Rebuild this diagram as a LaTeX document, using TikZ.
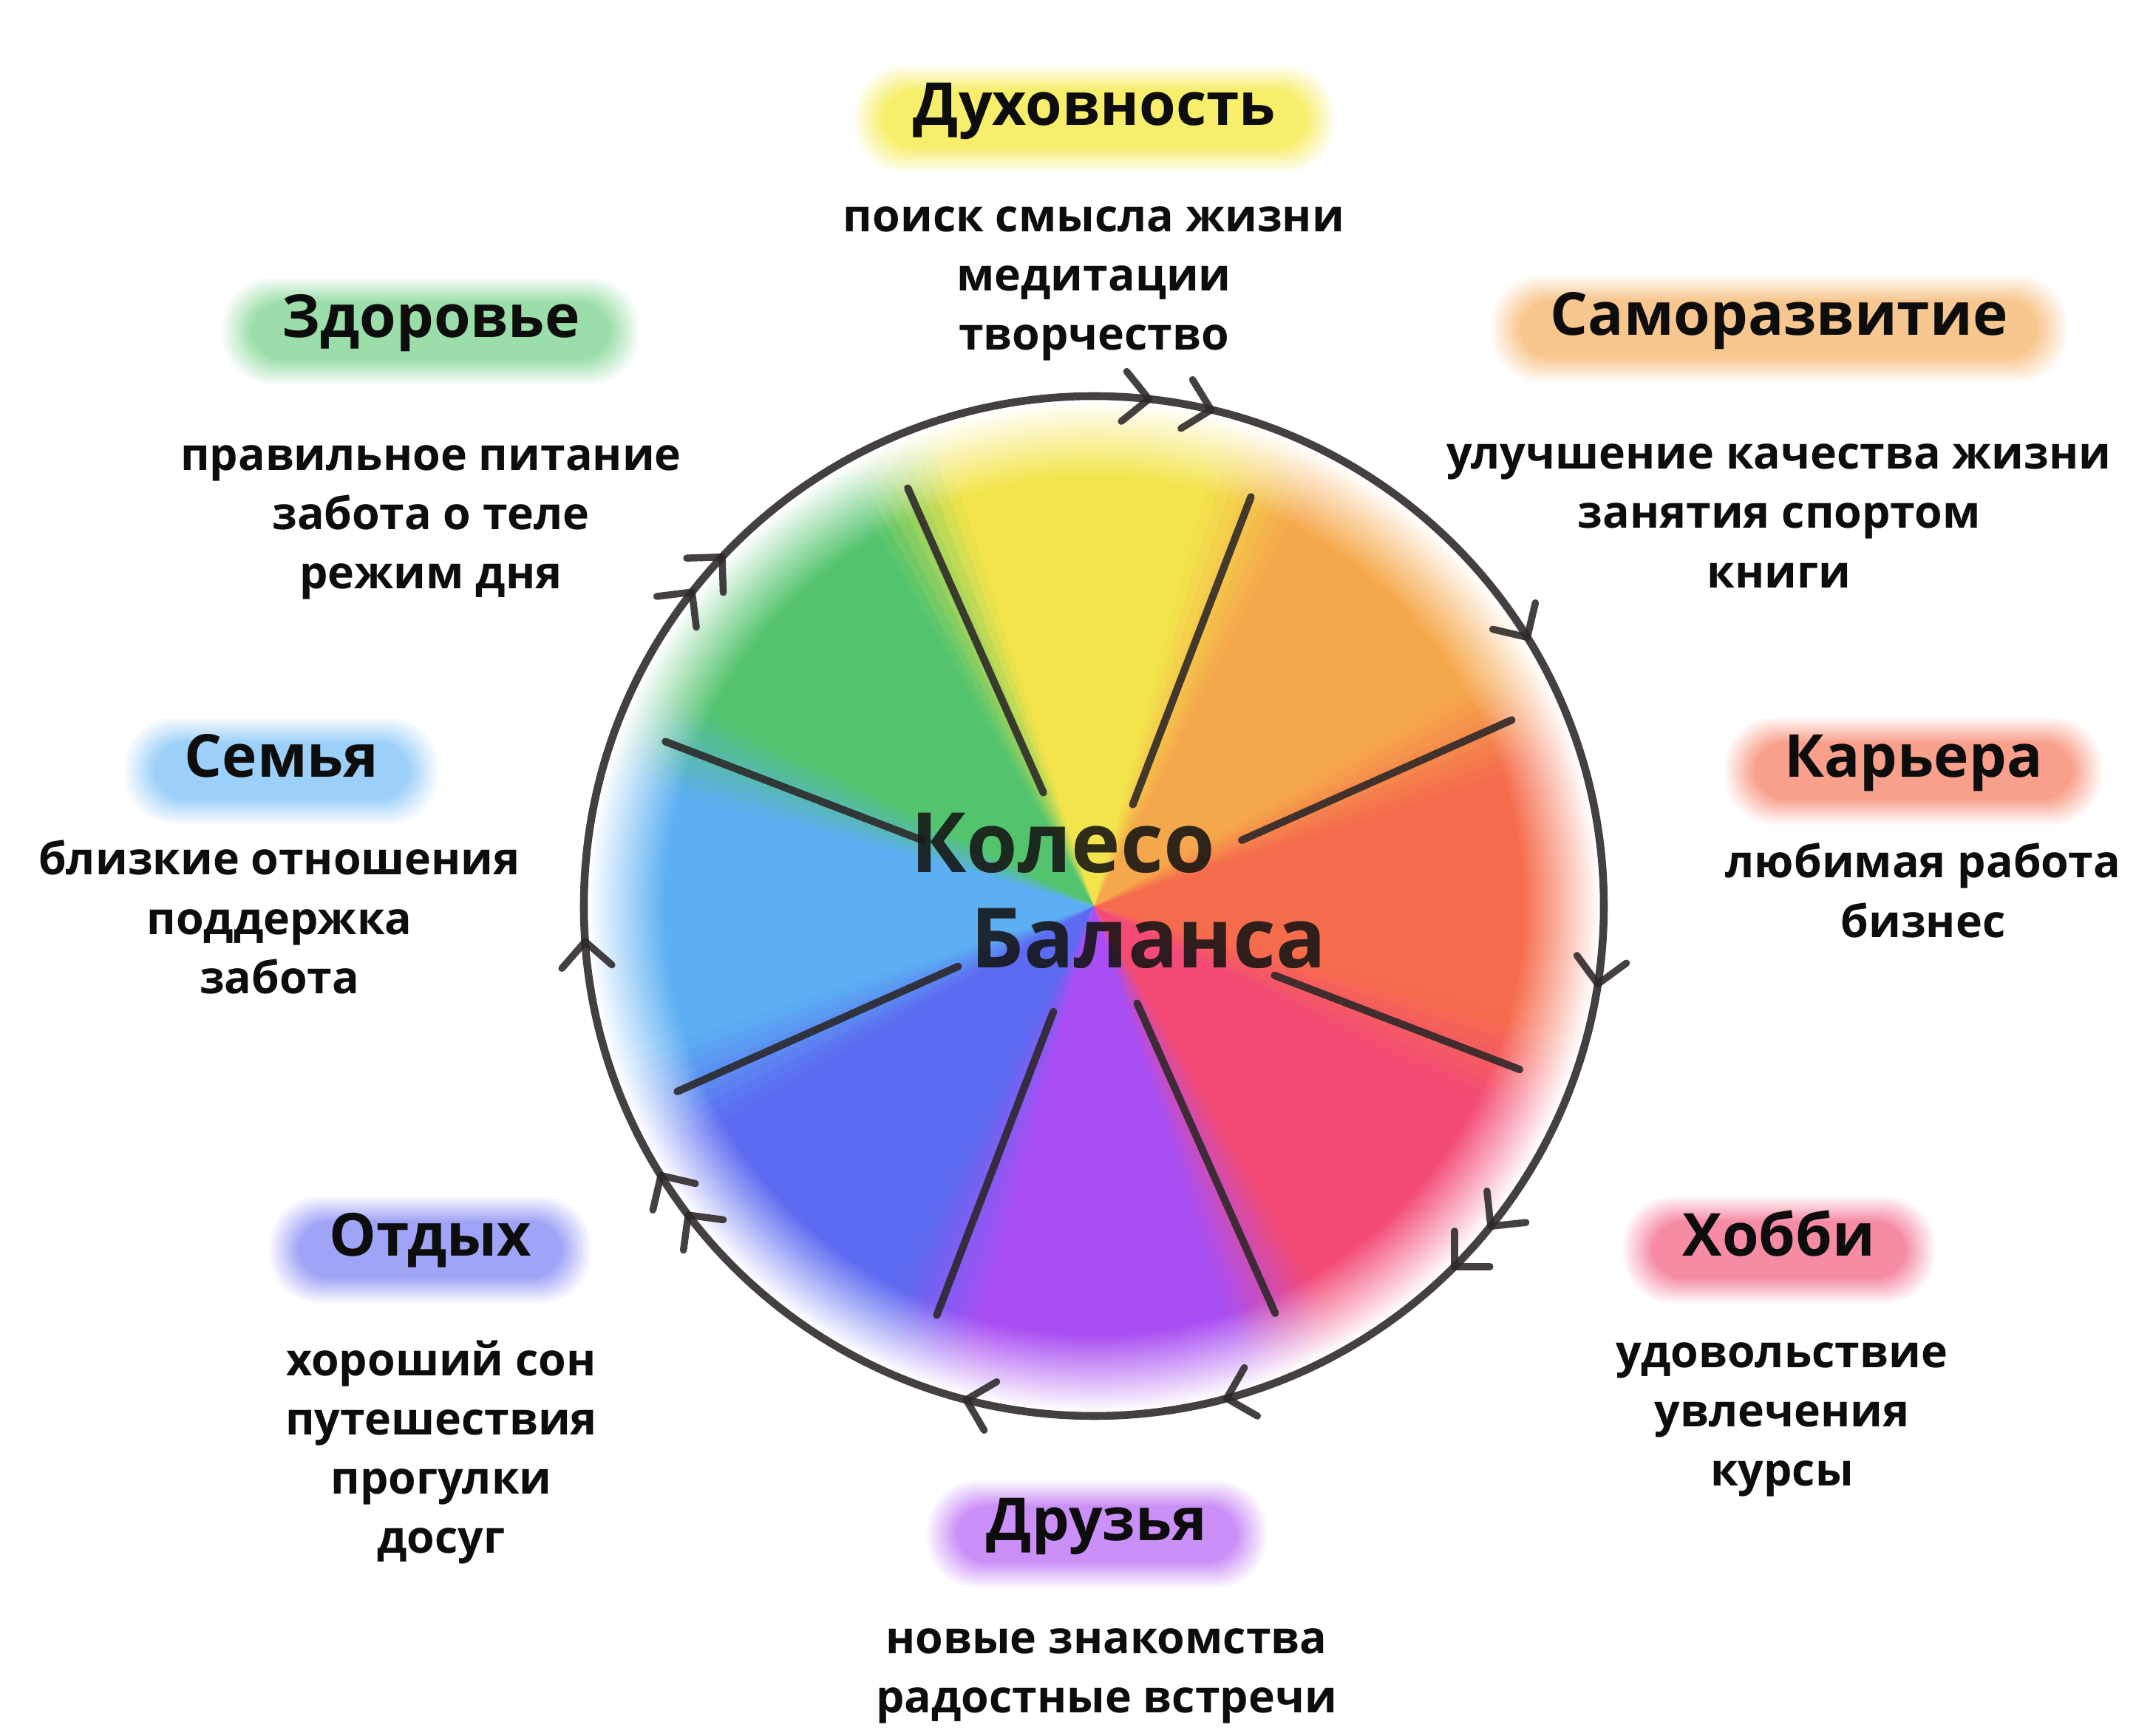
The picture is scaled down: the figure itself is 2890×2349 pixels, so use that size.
\documentclass[tikz,border=0pt]{standalone}
\usepackage{fontspec}
\setmainfont{Open Sans}
\usetikzlibrary{backgrounds,fit}

% wheel colours
\definecolor{ink}{HTML}{2B2627}
\definecolor{wYellow}{HTML}{F3E44B}
\definecolor{wOrange}{HTML}{F5A84B}
\definecolor{wRed}{HTML}{F56C4C}
\definecolor{wPink}{HTML}{F34B76}
\definecolor{wPurple}{HTML}{A94EF2}
\definecolor{wBlue}{HTML}{5C6BF1}
\definecolor{wSky}{HTML}{5BAFF2}
\definecolor{wGreen}{HTML}{53C46D}
% label colours
\definecolor{pYellow}{HTML}{F7EE6B}
\definecolor{pOrange}{HTML}{F8C68F}
\definecolor{pRed}{HTML}{F8A08C}
\definecolor{pPink}{HTML}{F58CA4}
\definecolor{pPurple}{HTML}{CB90F7}
\definecolor{pBlue}{HTML}{9FA4F6}
\definecolor{pSky}{HTML}{9DD0F8}
\definecolor{pGreen}{HTML}{9BDEA9}

\colorlet{wedgecol}{white}
\pgfdeclareradialshading[wedgecol]{wedgeshade}{\pgfpointorigin}{%
  color(0bp)=(wedgecol); color(21bp)=(wedgecol);
  color(24.8bp)=(white); color(50bp)=(white)}

\begin{document}
\begin{tikzpicture}[
    x=0.01cm, y=0.01cm,
    title/.style={font=\fontsize{22.8}{26}\selectfont\bfseries, text=black!95,
        inner sep=0pt, text height=0.72em, text depth=0.22em},
    lines/.style={font=\fontsize{17.3}{22.8}\selectfont\bfseries, text=black!95,
        align=center, inner sep=0pt},
    hub/.style={font=\fontsize{32}{36}\selectfont\bfseries, text=black!92,
        text opacity=0.88, inner sep=0pt},
    spoke/.style={draw=ink, line width=2.9pt, line cap=round, opacity=0.88},
    rim/.style={draw=ink, line width=3pt, opacity=0.88},
    tick/.style={draw=ink, line width=2.7pt, line cap=round, line join=round, opacity=0.88}
]
    \useasboundingbox (-1480,-1123) rectangle (1410,1226);
    \coordinate (hubc) at (0,0);

    % coloured sectors, soft towards the rim and towards each other
    \foreach \a/\c/\n in {-21/wRed/wOrange, 24/wOrange/wYellow, 69/wYellow/wGreen,
        114/wGreen/wSky, 159/wSky/wBlue, 204/wBlue/wPurple, 249/wPurple/wPink,
        294/wPink/wRed} {
        \begin{scope}
            \clip (hubc) -- (\a+6:720) arc[start angle=\a+6, end angle=\a+39.6, radius=720] -- cycle;
            \colorlet{wedgecol}{\c}
            \shade[shading=wedgeshade] (hubc) circle (690);
        \end{scope}
        \foreach \k in {0,...,7} {
            \pgfmathtruncatemacro{\mix}{6+12.5*\k}
            \begin{scope}
                \clip (hubc) -- (\a+39+1.5*\k:720) arc[start angle=\a+39+1.5*\k,
                    end angle=\a+41+1.5*\k, radius=720] -- cycle;
                \colorlet{wedgecol}{\n!\mix!\c}
                \shade[shading=wedgeshade] (hubc) circle (690);
            \end{scope}
        }
    }

    % spokes
    \foreach \ang/\ri/\ro in {114/168/619, 69/147/593, 24/219/619, -21/262/617,
        -66/144/603, -111/153/593, -156/201/617, 159/249/621}
        \draw[spoke] (\ang:\ri) -- (\ang:\ro);

    % rim with clockwise ticks
    \draw[rim] (hubc) circle (690);
    \foreach \t in {83.8, 76.7, 31.8, -8.8, -38.9, -45, -74.9, -104.5,
        -142.7, -148.1, 184, 136.8, 142}
        \draw[tick, shift={(\t:690)}] (\t+45:48) -- (0,0) -- (\t+135:48);

    % centre
    \node[hub] (hubtop) at (-42,85) {Колесо};
    \node[hub] (hubbot) at (74,-44) {Баланса};

    % areas
    \node[title] (spirit)  at (1,1065)   {Духовность};
    \node[title] (growth)  at (927,781)  {Саморазвитие};
    \node[title] (career)  at (1109,183) {Карьера};
    \node[title] (hobby)   at (927,-465) {Хобби};
    \node[title] (friends) at (4,-850)   {Друзья};
    \node[title] (rest)    at (-898,-465) {Отдых};
    \node[title] (family)  at (-1099,183) {Семья};
    \node[title] (health)  at (-897,778) {Здоровье};

    \node[lines] (spiritl)  at (0,842)     {поиск смысла жизни\\медитации\\творчество};
    \node[lines] (growthl)  at (927,528)   {улучшение качества жизни\\занятия спортом\\книги};
    \node[lines] (careerl)  at (1122,21)   {любимая работа\\бизнес};
    \node[lines] (hobbyl)   at (931,-695)  {удовольствие\\увлечения\\курсы};
    \node[lines] (friendsl) at (17,-1042)  {новые знакомства\\радостные встречи};
    \node[lines] (restl)    at (-883,-739) {хороший сон\\путешествия\\прогулки\\досуг};
    \node[lines] (familyl)  at (-1102,-15) {близкие отношения\\поддержка\\забота};
    \node[lines] (healthl)  at (-897,519)  {правильное питание\\забота о теле\\режим дня};

    % soft label patches
    \begin{pgfonlayer}{background}
        \fill[white] (-1480,-1123) rectangle (1410,1226);
        \foreach \nm/\cl in {spirit/pYellow, growth/pOrange, career/pRed, hobby/pPink,
            friends/pPurple, rest/pBlue, family/pSky, health/pGreen}
            \foreach \k in {0,...,11} {
                \pgfmathsetmacro{\xs}{0.8-0.035*\k}
                \pgfmathsetmacro{\ys}{0.55-0.03*\k}
                \pgfmathsetmacro{\rc}{0.72*(\ys+0.377)}
                \pgfmathtruncatemacro{\pc}{8+8.4*\k}
                \node[fit=(\nm), draw=none, fill=\cl!\pc!white, inner xsep=\xs cm,
                    inner ysep=\ys cm, rounded corners=\rc cm] {};
            }
    \end{pgfonlayer}
\end{tikzpicture}
\end{document}
